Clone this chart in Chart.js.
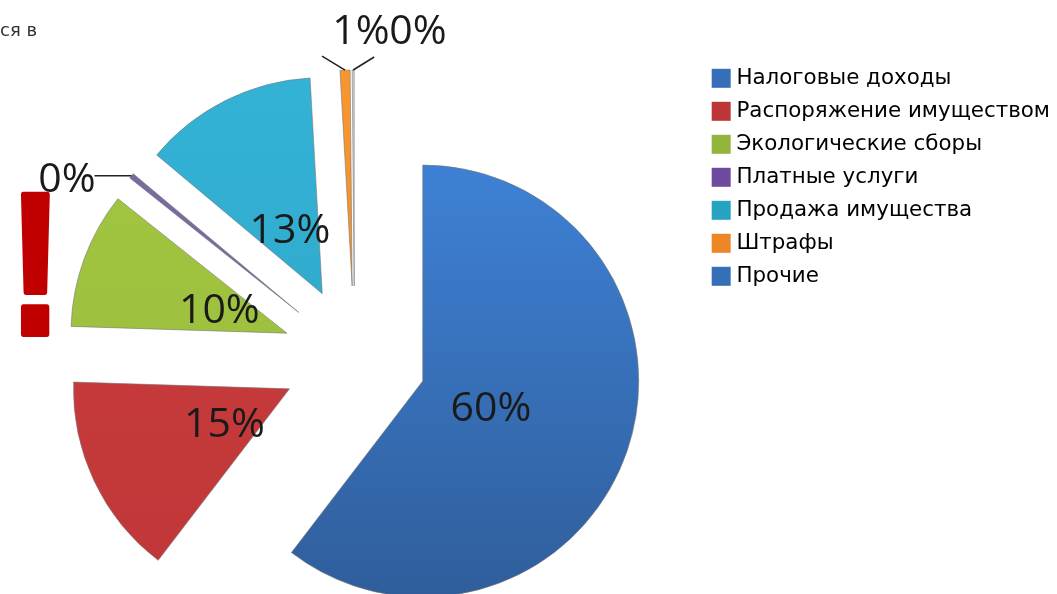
<!DOCTYPE html>
<html>
<head>
<meta charset="utf-8">
<style>
  html, body { margin: 0; padding: 0; background: #fff; overflow: hidden; width: 1057px; height: 594px; }
  #wrap { position: relative; width: 1057px; height: 594px; overflow: hidden; filter: blur(0.45px); }
  #wrap div.chart { position: absolute; left: 0; top: 0; width: 1057px; height: 660px; }
  #cut { position: absolute; left: 0; top: 19px; font: 18px "DejaVu Sans"; color: #333; }
  #mark { position: absolute; left: 0; top: 0; }
</style>
</head>
<body>
<div id="wrap">
  <div class="chart"><canvas id="pie"></canvas></div>
  <div id="cut">ся в</div>
  <svg id="mark" width="72" height="350">
    <text transform="translate(35.5 334) scale(0.82 1)" text-anchor="middle" font-family="Liberation Sans" font-weight="bold" font-size="203" fill="#c00000" stroke="#c00000" stroke-width="6" stroke-linejoin="round">!</text>
  </svg>
</div>
<script src="https://cdn.jsdelivr.net/npm/chart.js@4/dist/chart.umd.min.js"></script>
<script>
const categories = ['Налоговые доходы', 'Распоряжение имуществом', 'Экологические сборы', 'Платные услуги', 'Продажа имущества', 'Штрафы', 'Прочие'];
const shares = [60.4, 15.1, 10.2, 0.4, 13, 0.75, 0.15];
const topColors = ['#3d7fd2', '#c93c3c', '#a2c63f', '#7b6a9e', '#33b2d6', '#f7962f', '#d6d6d6'];
const bottomColors = ['#2f5c98', '#c03638', '#98bb3f', '#7b6a9e', '#2ea4c4', '#f08a28', '#d6d6d6'];
const legendColors = ['#356fb8', '#bd3537', '#93b53b', '#6d4a9e', '#25a3c0', '#ed8626', '#356fb8'];

const total = shares.reduce((a, b) => a + b, 0);
const explode = 72;

// leader lines for the slices too thin to hold a label
const leaders = {
    3: { dx: -37, dy: 0, x: 67, y: 180 },
    5: { dx: -23, dy: -14, x: 361, y: 32 },
    6: { dx: 21, dy: -13, x: 418, y: 32 }
};
const labelDrop = { 0: 5, 1: 6, 2: 3, 4: 2 };

// the arc's own offset option narrows the wedge and eats thin slices, so shift them here
const explodeSlices = {
    id: 'explodeSlices',
    beforeDatasetsDraw(chart) {
        chart.getDatasetMeta(0).data.forEach(arc => {
            if (arc.exploded) return;
            arc.exploded = true;
            const draw = arc.draw;
            arc.draw = function (ctx) {
                const mid = (this.startAngle + this.endAngle) / 2;
                ctx.save();
                ctx.translate(Math.cos(mid) * explode, Math.sin(mid) * explode);
                draw.call(this, ctx);
                ctx.restore();
            };
        });
    }
};

const sliceLabels = {
    id: 'sliceLabels',
    afterDatasetsDraw(chart) {
        const ctx = chart.ctx;
        const arcs = chart.getDatasetMeta(0).data;
        ctx.save();
        ctx.fillStyle = '#1a1a1a';
        ctx.font = '41px "Open Sans"';
        ctx.textAlign = 'center';
        ctx.textBaseline = 'middle';
        arcs.forEach((arc, i) => {
            const mid = (arc.startAngle + arc.endAngle) / 2;
            const text = Math.round(shares[i] / total * 100) + '%';
            const lead = leaders[i];
            if (lead) {
                const rimX = arc.x + Math.cos(mid) * 288;
                const rimY = arc.y + Math.sin(mid) * 288;
                ctx.strokeStyle = '#222';
                ctx.lineWidth = 1.5;
                ctx.beginPath();
                ctx.moveTo(rimX, rimY);
                ctx.lineTo(rimX + lead.dx, rimY + lead.dy);
                ctx.stroke();
                ctx.fillText(text, lead.x, lead.y);
            } else {
                ctx.fillText(text, arc.x + Math.cos(mid) * 144, arc.y + Math.sin(mid) * 144 + labelDrop[i]);
            }
        });
        ctx.restore();
    }
};

new Chart(document.getElementById('pie'), {
    type: 'pie',
    data: {
        labels: categories,
        datasets: [{
            data: shares,
            borderWidth: 1,
            borderColor: 'rgba(120,120,120,0.6)',
            backgroundColor(c) {
                const g = c.chart.ctx.createLinearGradient(0, 165, 0, 595);
                g.addColorStop(0, topColors[c.dataIndex]);
                g.addColorStop(1, bottomColors[c.dataIndex]);
                return g;
            }
        }]
    },
    options: {
        responsive: true,
        maintainAspectRatio: false,
        animation: false,
        radius: 216,
        layout: { padding: { top: 56, left: 4, right: -3 } },
        plugins: {
            tooltip: { enabled: false },
            legend: {
                position: 'right',
                align: 'start',
                labels: {
                    boxWidth: 9,
                    boxHeight: 9,
                    padding: 11.6,
                    color: '#2a2a2a',
                    font: { family: 'DejaVu Sans', size: 21.4 },
                    generateLabels() {
                        return categories.map((name, i) => ({
                            text: name,
                            fillStyle: legendColors[i],
                            strokeStyle: legendColors[i],
                            lineWidth: 10,
                            index: i
                        }));
                    }
                }
            }
        }
    },
    plugins: [explodeSlices, sliceLabels]
});
</script>
</body>
</html>
